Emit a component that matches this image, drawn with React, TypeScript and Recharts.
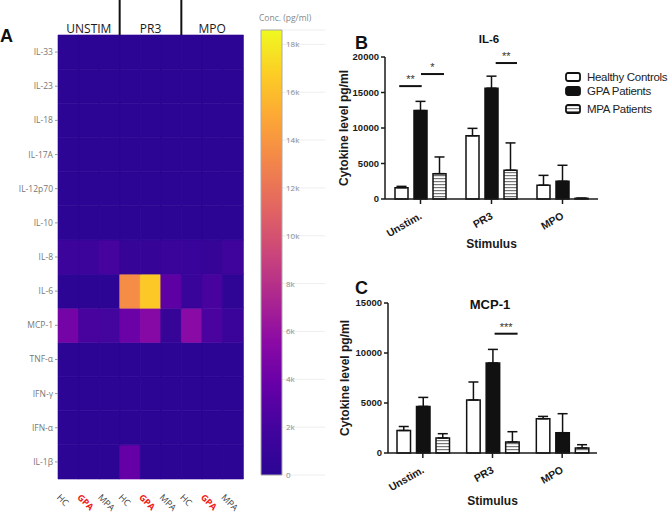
import React from 'react';
import { BarChart, Bar, XAxis, YAxis, Cell, CartesianGrid, ErrorBar, ReferenceLine, Legend, Label } from 'recharts';

// ---------------- Heatmap data (panel A) ----------------
const heatRows = ['IL-33', 'IL-23', 'IL-18', 'IL-17A', 'IL-12p70', 'IL-10', 'IL-8', 'IL-6', 'MCP-1', 'TNF-α', 'IFN-γ', 'IFN-α', 'IL-1β'];
const heatGroups = ['UNSTIM', 'PR3', 'MPO'];
const heatCohorts = ['HC', 'GPA', 'MPA'];
// columns: UNSTIM HC, GPA, MPA | PR3 HC, GPA, MPA | MPO HC, GPA, MPA
const vIL33 = [100, 100, 100, 100, 100, 100, 100, 100, 100];
const vIL23 = [100, 100, 100, 100, 100, 100, 100, 100, 100];
const vIL18 = [100, 100, 100, 100, 100, 100, 100, 100, 100];
const vIL17A = [100, 100, 100, 100, 100, 100, 100, 100, 100];
const vIL12p70 = [100, 100, 100, 100, 100, 100, 100, 100, 100];
const vIL10 = [120, 120, 120, 150, 130, 120, 120, 120, 120];
const vIL8 = [1500, 1500, 2100, 900, 900, 1300, 1200, 900, 1700];
const vIL6 = [200, 200, 200, 13500, 16500, 3300, 1200, 2200, 300];
const vMCP1 = [4500, 2200, 2000, 4000, 5400, 900, 5500, 2400, 1300];
const vTNFa = [120, 120, 120, 120, 120, 120, 120, 120, 120];
const vIFNg = [120, 120, 120, 130, 120, 120, 120, 120, 120];
const vIFNa = [120, 120, 120, 120, 120, 120, 120, 120, 120];
const vIL1b = [200, 200, 200, 3700, 200, 200, 200, 200, 200];
const heatValues = [vIL33, vIL23, vIL18, vIL17A, vIL12p70, vIL10, vIL8, vIL6, vMCP1, vTNFa, vIFNg, vIFNa, vIL1b];

const cbMax = 18600;
const cbTicks = [0, 2000, 4000, 6000, 8000, 10000, 12000, 14000, 16000, 18000];
const plasmaStops = ['#2b0594', '#41049d', '#6500a7', '#8b0aa5', '#ad2790', '#cb4679', '#e26561', '#f2844b', '#fca636', '#fccd25', '#f0f921'];

// ---------------- Bar data (panels B, C) ----------------
const stimuli = ['Unstim.', 'PR3', 'MPO'];
const il6HC = [1600, 8900, 1950];
const il6HCErr = [180, 1050, 1380];
const il6GPA = [12450, 15600, 2500];
const il6GPAErr = [1300, 1700, 2250];
const il6MPA = [3570, 4050, 100];
const il6MPAErr = [2350, 3850, 0];
const il6Ticks = [0, 5000, 10000, 15000, 20000];
const il6Sig = [
  { x1: 0.2, x2: 0.517, y: 15900, label: '**' },
  { x1: 0.507, x2: 0.831, y: 17600, label: '*' },
  { x1: 1.559, x2: 1.859, y: 19150, label: '**' },
];

const mcpHC = [2250, 5300, 3430];
const mcpHCErr = [400, 1800, 230];
const mcpGPA = [4660, 9000, 2030];
const mcpGPAErr = [900, 1360, 1900];
const mcpMPA = [1500, 1100, 500];
const mcpMPAErr = [430, 1030, 330];
const mcpTicks = [0, 5000, 10000, 15000];
const mcpSig = [{ x1: 1.53, x2: 1.86, y: 11930, label: '***' }];

const seriesNames = ['Healthy Controls', 'GPA Patients', 'MPA Patients'];

// ---------------- helpers ----------------
function hexToRgb(h: string) {
  const n = parseInt(h.slice(1), 16);
  return [(n >> 16) & 255, (n >> 8) & 255, n & 255];
}
function heatColor(v: number) {
  const t = Math.max(0, Math.min(1, v / cbMax));
  const pos = t * (plasmaStops.length - 1);
  const i = Math.min(plasmaStops.length - 2, Math.floor(pos));
  const f = pos - i;
  const a = hexToRgb(plasmaStops[i]);
  const b = hexToRgb(plasmaStops[i + 1]);
  const c = a.map((av, k) => Math.round(av + (b[k] - av) * f));
  return `rgb(${c[0]},${c[1]},${c[2]})`;
}

const heatCols = heatGroups.flatMap((g, gi) =>
  heatCohorts.map((c, ci) => {
    const o: any = { key: gi * 3 + ci, group: g, cohort: c };
    heatRows.forEach((_, ri) => (o['r' + ri] = 1));
    return o;
  })
);
const heatRowIdxBottomUp = heatRows.map((_, i) => heatRows.length - 1 - i);
const heatYTicks = heatRows.map((_, i) => i + 0.5);

const cbData = [{ k: 'a', v: cbMax }, { k: 'b', v: null }, { k: 'c', v: null }];

const stimPos = stimuli.map((_, i) => i + 0.5);
const il6Data = stimuli.map((s, i) => ({
  pos: stimPos[i],
  hc: il6HC[i], hcErr: [0, il6HCErr[i]],
  gpa: il6GPA[i], gpaErr: [0, il6GPAErr[i]],
  mpa: il6MPA[i], mpaErr: [0, il6MPAErr[i]],
}));
const mcpData = stimuli.map((s, i) => ({
  pos: stimPos[i],
  hc: mcpHC[i], hcErr: [0, mcpHCErr[i]],
  gpa: mcpGPA[i], gpaErr: [0, mcpGPAErr[i]],
  mpa: mcpMPA[i], mpaErr: [0, mcpMPAErr[i]],
}));

const axisFont = "'Liberation Sans Narrow','Arial Narrow','Liberation Sans',Arial,sans-serif";
const sansFont = "'Liberation Sans',Arial,sans-serif";
const plotlyFont = "'Open Sans','Noto Sans',sans-serif";

const HEAT_PLOT_W = 185;

const GroupTick = (props: any) => {
  const { x, y, payload } = props;
  const i = payload.value as number;
  const cellW = HEAT_PLOT_W / 9;
  return (
    <g>
      {i % 3 === 1 && (
        <text x={x} y={y - 2} textAnchor="middle" fontSize={12} fill="#1a1a1a" fontFamily={plotlyFont}>
          {heatCols[i].group}
        </text>
      )}
      {(i === 3 || i === 6) && (
        <line x1={x - cellW / 2} x2={x - cellW / 2} y1={y - 35} y2={y} stroke="#111" strokeWidth={2} />
      )}
    </g>
  );
};

const CohortTick = (props: any) => {
  const { x, y, payload } = props;
  const c = heatCols[payload.value].cohort;
  const isGpa = c === 'GPA';
  const tx = x - 12;
  const ty = y + 19;
  return (
    <text
      x={tx}
      y={ty}
      transform={`rotate(45, ${tx}, ${ty})`}
      textAnchor="start"
      fontSize={9}
      fontWeight={isGpa ? 700 : 400}
      fill={isGpa ? '#f01818' : '#444'}
      fontFamily={plotlyFont}
    >
      {c}
    </text>
  );
};

const CbTick = (props: any) => {
  const { x, y, payload } = props;
  return (
    <text x={x + 25} y={y + 3} fontSize={8} fill="#888" fontFamily={plotlyFont}>
      {payload.value === 0 ? '0' : `${payload.value / 1000}k`}
    </text>
  );
};

const StimTick = (props: any) => {
  const { x, y, payload } = props;
  const tx = x + 2;
  const ty = y + 12;
  return (
    <text x={tx} y={ty} transform={`rotate(-30, ${tx}, ${ty})`} textAnchor="end" fontSize={10.5} fontWeight={700} fill="#1a1a1a" fontFamily={axisFont}>
      {stimuli[Math.floor(payload.value)]}
    </text>
  );
};

const yLabelContent = (offset: number) => (p: any) => {
  const vb = p.viewBox || {};
  const x = vb.x + offset;
  const y = vb.y + vb.height / 2;
  return (
    <text x={x} y={y} transform={`rotate(-90, ${x}, ${y})`} textAnchor="middle" dominantBaseline="central" fontSize={12} fontWeight={700} fill="#1a1a1a" fontFamily={sansFont}>
      Cytokine level pg/ml
    </text>
  );
};

const xLabelContent = (p: any) => {
  const vb = p.viewBox || {};
  return (
    <text x={vb.x + vb.width / 2} y={vb.y + vb.height - 2} textAnchor="middle" fontSize={12} fontWeight={700} fill="#1a1a1a" fontFamily={sansFont}>
      Stimulus
    </text>
  );
};

const sigLabel = (text: string) => (p: any) => {
  const vb = p.viewBox || {};
  let cx: number, cy: number;
  if (vb.x1 !== undefined) {
    cx = (vb.x1 + vb.x2) / 2;
    cy = Math.min(vb.y1, vb.y2);
  } else {
    cx = vb.x + (vb.width || 0) / 2;
    cy = vb.y;
  }
  return (
    <text x={cx} y={cy - 3} textAnchor="middle" fontSize={11} fill="#333" fontFamily={sansFont}>
      {text}
    </text>
  );
};

const legendTops = [0, 14, 31.5];
const legendIcon: Record<string, any> = {
  'Healthy Controls': { fill: '#fff' },
  'GPA Patients': { fill: '#111' },
  'MPA Patients': { fill: 'url(#stripes)' },
};
const LegendContent = (props: any) => {
  const payload = (props.payload || []).slice().sort((a: any, b: any) => seriesNames.indexOf(a.value) - seriesNames.indexOf(b.value));
  return (
    <div style={{ position: 'relative', width: 110, height: 46 }}>
      {payload.map((e: any, i: number) => (
        <div key={e.value} style={{ position: 'absolute', left: 0, top: legendTops[i], height: 12, display: 'flex', alignItems: 'center', whiteSpace: 'nowrap' }}>
          <svg width={16} height={10} style={{ display: 'block' }}>
            <rect x={1} y={1} width={14} height={8} rx={2} fill={(legendIcon[e.value] || {}).fill} stroke="#111" strokeWidth={1.8} />
          </svg>
          <span style={{ marginLeft: 6, fontSize: 11.5, fontFamily: sansFont, color: '#222', letterSpacing: -0.3 }}>{e.value}</span>
        </div>
      ))}
    </div>
  );
};

const barStroke = { stroke: '#111', strokeWidth: 1.5 };

function CytokineBars(props: { data: any[]; ticks: number[]; max: number; sig: any[]; barSize: number; yWidth: number; margin: any; xHeight: number; width: number; height: number; legend?: boolean; yLabelOffset: number }) {
  const { data, ticks, max, sig, barSize, yWidth, margin, xHeight, width, height, legend, yLabelOffset } = props;
  return (
    <BarChart width={width} height={height} data={data} margin={margin} barSize={barSize} barGap={6}>
      <XAxis
        dataKey="pos"
        type="number"
        domain={[0, stimuli.length]}
        ticks={stimPos}
        height={xHeight}
        interval={0}
        tick={<StimTick />}
        tickSize={5}
        axisLine={{ stroke: '#1a1a1a', strokeWidth: 1.5 }}
        tickLine={{ stroke: '#1a1a1a', strokeWidth: 1.5 }}
      >
        <Label content={xLabelContent} />
      </XAxis>
      <YAxis
        type="number"
        domain={[0, max]}
        ticks={ticks}
        width={yWidth}
        tickSize={4}
        axisLine={{ stroke: '#1a1a1a', strokeWidth: 1.5 }}
        tickLine={{ stroke: '#1a1a1a', strokeWidth: 1.5 }}
        tick={{ fontSize: 9.5, fontWeight: 700, fill: '#1a1a1a', fontFamily: axisFont }}
      >
        <Label content={yLabelContent(yLabelOffset)} />
      </YAxis>
      <Bar dataKey="hc" name={seriesNames[0]} fill="#fff" {...barStroke} isAnimationActive={false}>
        <ErrorBar dataKey="hcErr" direction="y" width={5} stroke="#111" strokeWidth={1.5} isAnimationActive={false} />
      </Bar>
      <Bar dataKey="gpa" name={seriesNames[1]} fill="#111" {...barStroke} isAnimationActive={false}>
        <ErrorBar dataKey="gpaErr" direction="y" width={5} stroke="#111" strokeWidth={1.5} isAnimationActive={false} />
      </Bar>
      <Bar dataKey="mpa" name={seriesNames[2]} fill="url(#stripes)" {...barStroke} isAnimationActive={false}>
        <ErrorBar dataKey="mpaErr" direction="y" width={5} stroke="#111" strokeWidth={1.5} isAnimationActive={false} />
      </Bar>
      {sig.map((s, i) => (
        <ReferenceLine
          key={i}
          segment={[{ x: s.x1, y: s.y }, { x: s.x2, y: s.y }]}
          stroke="#111"
          strokeWidth={2}
          ifOverflow="visible"
          label={sigLabel(s.label)}
        />
      ))}
      {legend && (
        <Legend
          layout="vertical"
          align="center"
          verticalAlign="middle"
          itemSorter={(item: any) => seriesNames.indexOf(item.value)}
          content={<LegendContent />}
          wrapperStyle={{ left: 235, top: 71, width: 120, height: 46 }}
        />
      )}
    </BarChart>
  );
}

export default function App() {
  return (
    <div style={{ position: 'absolute', left: 0, top: 0, width: 672, height: 517, background: '#fff', overflow: 'hidden' }}>
      <svg width={0} height={0} style={{ position: 'absolute' }}>
        <defs>
          <pattern id="stripes" patternUnits="userSpaceOnUse" width={4} height={3}>
            <rect x={0} y={0} width={4} height={3} fill="#fff" />
            <rect x={0} y={1} width={4} height={1.2} fill="#777" />
          </pattern>
          <linearGradient id="plasmaGrad" x1="0" y1="1" x2="0" y2="0">
            {plasmaStops.map((c, i) => (
              <stop key={i} offset={`${(i / (plasmaStops.length - 1)) * 100}%`} stopColor={c} />
            ))}
          </linearGradient>
        </defs>
      </svg>

      {/* Panel A heatmap */}
      <div style={{ position: 'absolute', left: 0, top: 0 }}>
        <BarChart width={260} height={517} data={heatCols} margin={{ top: 0, right: 17, bottom: 8, left: 0 }} barCategoryGap={0}>
          <XAxis xAxisId="top" orientation="top" dataKey="key" height={35} interval={0} axisLine={false} tickLine={false} tickSize={0} tickMargin={0} tick={<GroupTick />} />
          <XAxis dataKey="key" height={30} interval={0} axisLine={false} tickLine={false} tickSize={0} tickMargin={0} tick={<CohortTick />} />
          <YAxis
            type="number"
            domain={[0, heatRows.length]}
            ticks={heatYTicks}
            width={58}
            tickSize={3}
            axisLine={false}
            tickLine={{ stroke: '#999' }}
            tickFormatter={(v: number) => heatRows[heatRows.length - 1 - Math.floor(v)]}
            tick={{ fontSize: 8.5, fill: '#777', fontFamily: plotlyFont }}
          />
          {heatRowIdxBottomUp.map((ri) => (
            <Bar key={ri} dataKey={'r' + ri} stackId="h" isAnimationActive={false}>
              {heatCols.map((c, ci) => {
                const col = heatColor(heatValues[ri][ci]);
                return <Cell key={ci} fill={col} stroke={col} strokeWidth={0.6} />;
              })}
            </Bar>
          ))}
        </BarChart>
      </div>
      <div style={{ position: 'absolute', left: 0, top: 26, width: 20, fontFamily: sansFont, fontWeight: 700, fontSize: 18, color: '#111' }}>A</div>

      {/* Colour bar */}
      <div style={{ position: 'absolute', left: 240, top: 0 }}>
        <BarChart width={100} height={517} data={cbData} margin={{ top: 30, right: 15, bottom: 42, left: 0 }} barCategoryGap={0}>
          <CartesianGrid horizontal vertical={false} stroke="#eeeeee" />
          <XAxis dataKey="k" hide />
          <YAxis type="number" domain={[0, cbMax]} ticks={cbTicks} width={21} axisLine={false} tickLine={false} tickSize={0} tickMargin={0} tick={<CbTick />} />
          <Bar dataKey="v" fill="url(#plasmaGrad)" stroke="#aaa" strokeWidth={1} isAnimationActive={false} />
        </BarChart>
      </div>
      <div style={{ position: 'absolute', left: 259, top: 12, fontFamily: plotlyFont, fontSize: 8.5, color: '#888', whiteSpace: 'nowrap' }}>Conc. (pg/ml)</div>

      {/* Panel B */}
      <div style={{ position: 'absolute', left: 330, top: 0 }}>
        <CytokineBars
          data={il6Data}
          ticks={il6Ticks}
          max={20000}
          sig={il6Sig}
          barSize={13}
          yWidth={55}
          margin={{ top: 57, right: 74, bottom: 10, left: 0 }}
          xHeight={51}
          width={342}
          height={260}
          legend
          yLabelOffset={14}
        />
      </div>
      <div style={{ position: 'absolute', left: 355, top: 33, fontFamily: sansFont, fontWeight: 700, fontSize: 18, color: '#111' }}>B</div>
      <div style={{ position: 'absolute', left: 489, top: 33, transform: 'translateX(-50%)', fontFamily: sansFont, fontWeight: 700, fontSize: 11.5, color: '#111' }}>IL-6</div>

      {/* Panel C */}
      <div style={{ position: 'absolute', left: 330, top: 250 }}>
        <CytokineBars
          data={mcpData}
          ticks={mcpTicks}
          max={15000}
          sig={mcpSig}
          barSize={13.5}
          yWidth={58}
          margin={{ top: 53, right: 75, bottom: 10, left: 0 }}
          xHeight={54}
          width={342}
          height={267}
          yLabelOffset={15}
        />
      </div>
      <div style={{ position: 'absolute', left: 355, top: 278, fontFamily: sansFont, fontWeight: 700, fontSize: 18, color: '#111' }}>C</div>
      <div style={{ position: 'absolute', left: 490, top: 297, transform: 'translateX(-50%)', fontFamily: sansFont, fontWeight: 700, fontSize: 13, color: '#111' }}>MCP-1</div>
    </div>
  );
}
